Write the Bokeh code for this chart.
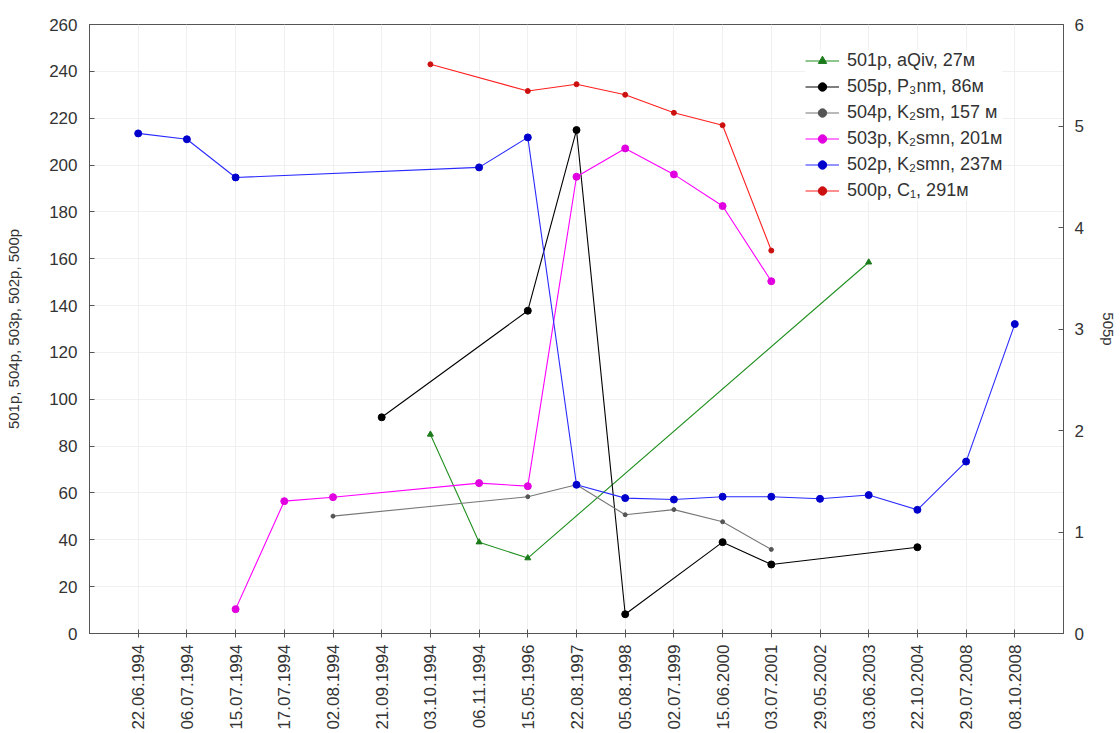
from bokeh.plotting import figure
from bokeh.models import (Range1d, LinearAxis, FixedTicker, Legend, LegendItem)
from bokeh.embed import file_html
from bokeh.resources import INLINE

dates = ["22.06.1994", "06.07.1994", "15.07.1994", "17.07.1994", "02.08.1994",
         "21.09.1994", "03.10.1994", "06.11.1994", "15.05.1996", "22.08.1997",
         "05.08.1998", "02.07.1999", "15.06.2000", "03.07.2001", "29.05.2002",
         "03.06.2003", "22.10.2004", "29.07.2008", "08.10.2008"]

s501_dates = ["03.10.1994", "06.11.1994", "15.05.1996", "03.06.2003"]
s501_vals = [85.0, 39.0, 32.2, 158.5]

s505_dates = ["21.09.1994", "15.05.1996", "22.08.1997", "05.08.1998", "15.06.2000",
              "03.07.2001", "22.10.2004"]
s505_vals = [2.13, 3.18, 4.96, 0.19, 0.90, 0.68, 0.85]

s504_dates = ["02.08.1994", "15.05.1996", "22.08.1997", "05.08.1998", "02.07.1999",
              "15.06.2000", "03.07.2001"]
s504_vals = [50.1, 58.4, 63.5, 50.7, 52.9, 47.7, 35.9]

s503_dates = ["15.07.1994", "17.07.1994", "02.08.1994", "06.11.1994", "15.05.1996",
              "22.08.1997", "05.08.1998", "02.07.1999", "15.06.2000", "03.07.2001"]
s503_vals = [10.4, 56.5, 58.2, 64.2, 62.9, 195.0, 207.1, 196.0, 182.5, 150.4]

s502_dates = ["22.06.1994", "06.07.1994", "15.07.1994", "06.11.1994", "15.05.1996",
              "22.08.1997", "05.08.1998", "02.07.1999", "15.06.2000", "03.07.2001",
              "29.05.2002", "03.06.2003", "22.10.2004", "29.07.2008", "08.10.2008"]
s502_vals = [213.5, 211.0, 194.7, 199.0, 211.8, 63.5, 57.8, 57.2, 58.4, 58.4,
             57.5, 59.1, 52.8, 73.4, 132.1]

s500_dates = ["03.10.1994", "15.05.1996", "22.08.1997", "05.08.1998", "02.07.1999",
              "15.06.2000", "03.07.2001"]
s500_vals = [243.0, 231.6, 234.5, 230.0, 222.3, 217.0, 163.5]

left_ticks = list(range(0, 261, 20))
right_ticks = [0, 1, 2, 3, 4, 5, 6]

FONT = "Liberation Sans"
TXT = "#333333"
AX = "#555555"

p = figure(width=1120, height=733, output_backend="svg", toolbar_location=None,
           x_range=Range1d(0, len(dates) + 1), y_range=Range1d(0, 260),
           min_border_left=89, min_border_right=57, min_border_top=24,
           min_border_bottom=100)
p.extra_y_ranges = {"r": Range1d(0, 6)}

p.outline_line_color = AX
p.outline_line_width = 1
p.background_fill_color = "white"

cat_ticks = list(range(1, len(dates) + 1))

# x axis
xa = p.xaxis[0]
xa.ticker = FixedTicker(ticks=cat_ticks)
xa.major_label_overrides = {i + 1: d for i, d in enumerate(dates)}
xa.major_label_orientation = 1.5707963
xa.major_label_text_font = FONT
xa.major_label_text_font_size = "17px"
xa.major_label_text_color = TXT
xa.major_tick_in = 4
xa.major_tick_out = 4
xa.minor_tick_line_color = None
xa.major_label_standoff = 7
xa.axis_line_color = AX
xa.major_tick_line_color = AX

# left axis
ya = p.yaxis[0]
ya.ticker = FixedTicker(ticks=left_ticks)
ya.axis_label = "501р, 504р, 503р, 502р, 500р"
ya.axis_label_text_font = FONT
ya.axis_label_text_font_style = "normal"
ya.axis_label_text_font_size = "15px"
ya.axis_label_text_color = TXT
ya.axis_label_standoff = 24
ya.major_label_text_font = FONT
ya.major_label_text_font_size = "17px"
ya.major_label_text_color = TXT
ya.major_tick_in = 5
ya.major_tick_out = 0
ya.minor_tick_line_color = None
ya.major_label_standoff = 12
ya.axis_line_color = AX
ya.major_tick_line_color = AX

# right axis
ra = LinearAxis(y_range_name="r", ticker=FixedTicker(ticks=right_ticks))
ra.axis_label = "505р"
ra.axis_label_text_font = FONT
ra.axis_label_text_font_style = "normal"
ra.axis_label_text_font_size = "15px"
ra.axis_label_text_color = TXT
ra.axis_label_standoff = 13
ra.major_label_text_font = FONT
ra.major_label_text_font_size = "17px"
ra.major_label_text_color = TXT
ra.major_tick_in = 5
ra.major_tick_out = 0
ra.minor_tick_line_color = None
ra.major_label_standoff = 11
ra.axis_line_color = AX
ra.major_tick_line_color = AX
p.add_layout(ra, "right")

p.xgrid.grid_line_color = "#f0f0f0"
p.ygrid.grid_line_color = "#f0f0f0"
p.xgrid.ticker = FixedTicker(ticks=cat_ticks)
p.ygrid.ticker = FixedTicker(ticks=left_ticks)


def xs(ds):
    return [dates.index(d) + 1 for d in ds]


series = [
    ("501р, aQiv, 27м", s501_dates, s501_vals, "#1f8f1f", "#1a7a1a", "triangle", 6, "default"),
    ("505р, P₃nm, 86м", s505_dates, s505_vals, "#000000", "#000000", "circle", 7, "r"),
    ("504р, K₂sm, 157 м", s504_dates, s504_vals, "#777777", "#555555", "circle", 4, "default"),
    ("503р, K₂smn, 201м", s503_dates, s503_vals, "#ff00ff", "#e000e0", "circle", 7, "default"),
    ("502р, K₂smn, 237м", s502_dates, s502_vals, "#2a2aff", "#0000cc", "circle", 7, "default"),
    ("500р, C₁, 291м", s500_dates, s500_vals, "#ff2020", "#cc1010", "circle", 5, "default"),
]

items = []
for label, ds, vs, lc, mc, mk, sz, rng in series:
    x = xs(ds)
    ln = p.line(x, vs, line_color=lc, line_width=1.1, y_range_name=rng)
    sc = p.scatter(x, vs, marker=mk, size=sz, fill_color=mc, line_color=mc,
                   y_range_name=rng)
    items.append(LegendItem(label=label, renderers=[ln, sc]))

legend = Legend(items=items, location=(716, 432),
                label_text_font=FONT, label_text_font_size="18px",
                label_text_color=TXT, glyph_width=34, glyph_height=21,
                label_height=21, spacing=5, padding=5, label_standoff=8,
                border_line_color=None, background_fill_color="white",
                background_fill_alpha=1.0)
p.add_layout(legend, "center")

open("out.html", "w").write(file_html(p, INLINE))
